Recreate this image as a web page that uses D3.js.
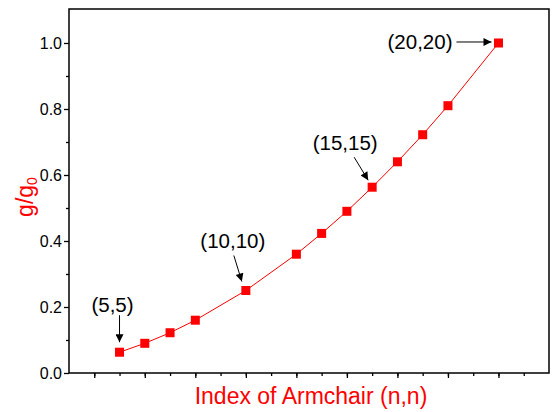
<!DOCTYPE html>
<html>
<head>
<meta charset="utf-8">
<script src="https://cdn.jsdelivr.net/npm/d3@7"></script>
<style>
  body { margin: 0; background: #fff; }
  svg { display: block; font-family: Arial, 'Liberation Sans', sans-serif; }
</style>
</head>
<body>
<div class="chart"></div>
<script>
'use strict';

// armchair index n and normalised g/g0
const nValues = [5, 6, 7, 8, 10, 12, 13, 14, 15, 16, 17, 18, 20];
const ratioValues = [0.063, 0.09, 0.122, 0.16, 0.25, 0.36, 0.423, 0.49, 0.563, 0.64, 0.722, 0.81, 1.0];

const yTickValues = [0, 0.2, 0.4, 0.6, 0.8, 1.0];

const noteN = [5, 10, 15, 20];
const noteLabels = ['(5,5)', '(10,10)', '(15,15)', '(20,20)'];

// label / arrow offsets from the point, in px
const noteLayout = [
  {tx: -7, ty: -40, anchor: 'middle', x1: 0, y1: -37, x2: 0, y2: -10},
  {tx: -13, ty: -42, anchor: 'middle', x1: -12, y1: -35, x2: -4, y2: -9},
  {tx: -27, ty: -37, anchor: 'middle', x1: -18, y1: -30, x2: -4, y2: -7},
  {tx: -46, ty: 6, anchor: 'end', x1: -42, y1: -1, x2: -7, y2: -1}
];

const margin = {
  top: 9,
  right: 3,
  bottom: 39,
  left: 69
};

const FULL_WIDTH = 552;
const FULL_HEIGHT = 412;
const WIDTH = FULL_WIDTH - margin.left - margin.right;
const HEIGHT = FULL_HEIGHT - margin.top - margin.bottom;

const svg = d3.select('.chart')
  .append('svg')
    .attr('width', FULL_WIDTH)
    .attr('height', FULL_HEIGHT)
  .append('g')
    .attr('transform', 'translate(' + margin.left + ',' + margin.top + ')');

const x = d3.scaleLinear()
  .domain([3, 22])
  .range([0, WIDTH]);

const y = d3.scaleLinear()
  .domain([0, 1.103])
  .range([HEIGHT, 0]);

svg.append('defs')
  .append('marker')
    .attr('id', 'arrow')
    .attr('viewBox', '0 0 10 10')
    .attr('refX', 10)
    .attr('refY', 5)
    .attr('markerUnits', 'userSpaceOnUse')
    .attr('markerWidth', 10)
    .attr('markerHeight', 8)
    .attr('orient', 'auto')
  .append('path')
    .attr('d', 'M0,0 L10,5 L0,10 Z')
    .attr('fill', '#000');

// minor ticks first, majors drawn on top
svg.append('g')
    .attr('transform', 'translate(0,' + HEIGHT + ')')
    .call(d3.axisBottom(x).tickValues(d3.range(4, 22, 1)).tickSize(3).tickFormat(''))
    .call((g) => g.select('.domain').remove());

svg.append('g')
    .attr('transform', 'translate(0,' + HEIGHT + ')')
    .call(d3.axisBottom(x).tickValues(d3.range(4, 22, 2)).tickSize(5).tickFormat(''))
    .call((g) => g.select('.domain').remove());

svg.append('g')
    .call(d3.axisLeft(y).tickValues(d3.range(0.1, 1.1, 0.2)).tickSize(3).tickFormat(''))
    .call((g) => g.select('.domain').remove());

svg.append('g')
    .attr('class', 'y-axis')
    .call(d3.axisLeft(y).tickValues(yTickValues).tickSize(5).tickPadding(2).tickFormat(d3.format('.1f')))
    .call((g) => g.select('.domain').remove())
    .selectAll('text')
      .attr('font-size', 16)
      .attr('fill', '#000')
      .attr('font-family', 'Arial, Liberation Sans, sans-serif');

svg.selectAll('.tick line')
  .attr('stroke', '#000')
  .attr('stroke-width', 1.3);

svg.append('rect')
  .attr('x', 0)
  .attr('y', 0)
  .attr('width', WIDTH)
  .attr('height', HEIGHT)
  .attr('fill', 'none')
  .attr('stroke', '#000')
  .attr('stroke-width', 1.5);

const points = nValues.map((n, i) => ({n: n, v: ratioValues[i]}));

svg.append('path')
  .datum(points)
  .attr('fill', 'none')
  .attr('stroke', '#ff0000')
  .attr('stroke-width', 1)
  .attr('d', d3.line().x((d) => x(d.n)).y((d) => y(d.v)));

svg.selectAll('.pt')
  .data(points)
  .enter()
  .append('rect')
  .attr('class', 'pt')
  .attr('x', (d) => x(d.n) - 4.5)
  .attr('y', (d) => y(d.v) - 4.5)
  .attr('width', 9)
  .attr('height', 9)
  .attr('fill', '#ff0000');

noteN.forEach((n, i) => {
  const px = x(n);
  const py = y(ratioValues[nValues.indexOf(n)]);
  const l = noteLayout[i];
  svg.append('line')
    .attr('x1', px + l.x1)
    .attr('y1', py + l.y1)
    .attr('x2', px + l.x2)
    .attr('y2', py + l.y2)
    .attr('stroke', '#000')
    .attr('stroke-width', 1)
    .attr('marker-end', 'url(#arrow)');
  svg.append('text')
    .attr('x', px + l.tx)
    .attr('y', py + l.ty)
    .attr('text-anchor', l.anchor)
    .attr('font-size', 20.5)
    .attr('fill', '#000')
    .text(noteLabels[i]);
});

svg.append('text')
  .attr('x', WIDTH / 2 + 2)
  .attr('y', HEIGHT + 31)
  .attr('text-anchor', 'middle')
  .attr('font-size', 23)
  .attr('fill', '#ff0000')
  .text('Index of Armchair (n,n)');

const yTitle = svg.append('text')
  .attr('transform', 'translate(-36,' + (HEIGHT / 2 + 6) + ') rotate(-90)')
  .attr('text-anchor', 'middle')
  .attr('font-size', 23)
  .attr('fill', '#ff0000');
yTitle.append('tspan').text('g/g');
yTitle.append('tspan')
  .attr('font-size', 14)
  .attr('dy', 4)
  .text('0');
</script>
</body>
</html>
